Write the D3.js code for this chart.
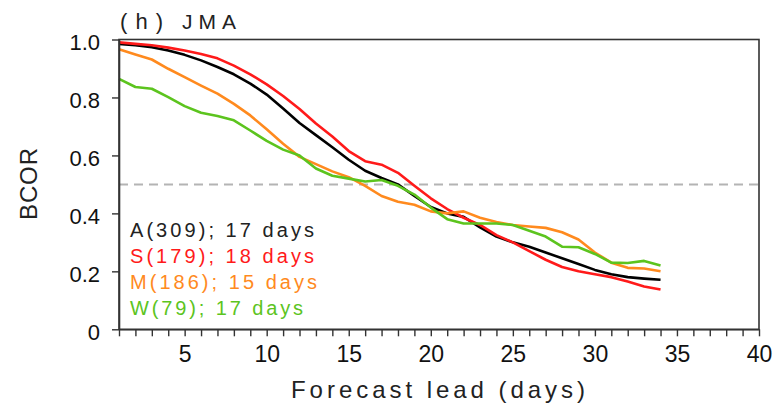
<!DOCTYPE html>
<html>
<head>
<meta charset="utf-8">
<script src="https://cdn.jsdelivr.net/npm/d3@7"></script>
<style>
  html, body { margin: 0; padding: 0; background: #fff; }
  svg { display: block; }
  text { font-family: "Liberation Sans", Arial, sans-serif; }
</style>
</head>
<body>
<svg id="chart" width="777" height="406"></svg>
<script>
// ---- data ----
const days = d3.range(1, 35); // forecast lead 1..34
const seriesA = [0.985,0.980,0.973,0.962,0.947,0.928,0.905,0.880,0.848,0.810,0.762,0.712,0.670,0.628,0.585,0.547,0.522,0.500,0.460,0.422,0.400,0.388,0.352,0.320,0.300,0.285,0.265,0.245,0.225,0.205,0.190,0.180,0.175,0.171];
const seriesS = [0.990,0.985,0.980,0.972,0.962,0.950,0.935,0.910,0.880,0.845,0.805,0.760,0.710,0.665,0.615,0.580,0.568,0.540,0.495,0.452,0.415,0.385,0.360,0.325,0.300,0.270,0.240,0.215,0.200,0.190,0.180,0.165,0.148,0.137];
const seriesM = [0.966,0.948,0.931,0.899,0.870,0.841,0.813,0.778,0.738,0.690,0.640,0.595,0.570,0.545,0.525,0.495,0.460,0.440,0.430,0.407,0.400,0.407,0.385,0.370,0.360,0.355,0.350,0.335,0.310,0.265,0.230,0.212,0.210,0.200];
const seriesW = [0.864,0.836,0.830,0.801,0.770,0.747,0.736,0.721,0.686,0.650,0.620,0.600,0.555,0.530,0.520,0.510,0.515,0.495,0.465,0.420,0.380,0.365,0.365,0.365,0.360,0.340,0.320,0.285,0.283,0.260,0.230,0.229,0.236,0.220];
const seriesNames = ["A(309); 17 days", "S(179); 18 days", "M(186); 15 days", "W(79); 17 days"];
const seriesColors = ["#000000", "#ff1a1a", "#ff8a1e", "#5cc41e"];
const xTicks = d3.range(1, 41);
const xTickLabels = [5, 10, 15, 20, 25, 30, 35, 40];
const yTicks = [0, 0.2, 0.4, 0.6, 0.8, 1.0];
const yTickLabels = ["0", "0.2", "0.4", "0.6", "0.8", "1.0"];
const refValue = 0.5;
const titleParts = ["(h)", "JMA"];
const xTitle = "Forecast lead (days)";
const yTitle = "BCOR";

// ---- layout ----
const svg = d3.select("#chart");
const L = 119, R = 759, T = 39.5, B = 329.3;
const x = d3.scaleLinear().domain([1, 40]).range([L, R]);
const y = d3.scaleLinear().domain([0, 1]).range([B, T]);

// reference dashed line
svg.append("line")
  .attr("x1", L).attr("x2", R)
  .attr("y1", y(refValue)).attr("y2", y(refValue))
  .attr("stroke", "#b4b4b4").attr("stroke-width", 2)
  .attr("stroke-dasharray", "9,6");

// lines
const allSeries = [seriesA, seriesS, seriesM, seriesW];
const line = d3.line().x((d, i) => x(days[i])).y(d => y(d));
allSeries.forEach((s, k) => {
  svg.append("path")
    .datum(s)
    .attr("d", line)
    .attr("fill", "none")
    .attr("stroke", seriesColors[k])
    .attr("stroke-width", 2.6)
    .attr("stroke-linejoin", "round")
    .attr("stroke-linecap", "butt");
});

// frame
svg.append("rect")
  .attr("x", L).attr("y", T)
  .attr("width", R - L).attr("height", B - T)
  .attr("fill", "none").attr("stroke", "#333").attr("stroke-width", 1.6);

// x axis
const xAxis = d3.axisBottom(x)
  .tickValues(xTicks)
  .tickSize(7)
  .tickSizeOuter(0)
  .tickPadding(9)
  .tickFormat(d => xTickLabels.includes(d) ? String(d) : "");
const gx = svg.append("g").attr("transform", `translate(0,${B})`).call(xAxis);
gx.select(".domain").attr("stroke", "#333").attr("stroke-width", 1.6);
gx.selectAll(".tick line").attr("stroke", "#333").attr("stroke-width", 1.4);
gx.selectAll(".tick text")
  .attr("font-size", 23).attr("fill", "#111")
  .attr("font-family", "'Liberation Sans', Arial, sans-serif");

// y axis
const yAxis = d3.axisLeft(y)
  .tickValues(yTicks)
  .tickSize(7)
  .tickSizeOuter(0)
  .tickPadding(12)
  .tickFormat((d, i) => yTickLabels[i]);
const gy = svg.append("g").attr("transform", `translate(${L},0)`).call(yAxis);
gy.select(".domain").attr("stroke", "#333").attr("stroke-width", 1.6);
gy.selectAll(".tick line").attr("stroke", "#333").attr("stroke-width", 1.4);
gy.selectAll(".tick text")
  .attr("font-size", 22).attr("fill", "#111").attr("dy", "0.45em")
  .attr("font-family", "'Liberation Sans', Arial, sans-serif");

// title
svg.append("text")
  .attr("x", 120).attr("y", 29)
  .attr("font-size", 22).attr("fill", "#222")
  .attr("textLength", 43).attr("lengthAdjust", "spacing")
  .text(titleParts[0]);
svg.append("text")
  .attr("x", 182).attr("y", 29)
  .attr("font-size", 21).attr("fill", "#222")
  .attr("textLength", 54).attr("lengthAdjust", "spacing")
  .text(titleParts[1]);

// x title
svg.append("text")
  .attr("x", 291).attr("y", 398)
  .attr("font-size", 24).attr("fill", "#222")
  .attr("textLength", 294).attr("lengthAdjust", "spacing")
  .text(xTitle);

// y title
svg.append("text")
  .attr("transform", "translate(37,220) rotate(-90)")
  .attr("x", 0).attr("y", 0)
  .attr("font-size", 24).attr("fill", "#222")
  .attr("textLength", 72).attr("lengthAdjust", "spacing")
  .text(yTitle);

// legend
const legendLens = [184, 184, 187, 173];
seriesNames.forEach((n, k) => {
  svg.append("text")
    .attr("x", 130).attr("y", 237 + k * 26)
    .attr("font-size", 20).attr("fill", k === 0 ? "#222" : seriesColors[k])
    .attr("textLength", legendLens[k]).attr("lengthAdjust", "spacing")
    .text(n);
});
</script>
</body>
</html>
